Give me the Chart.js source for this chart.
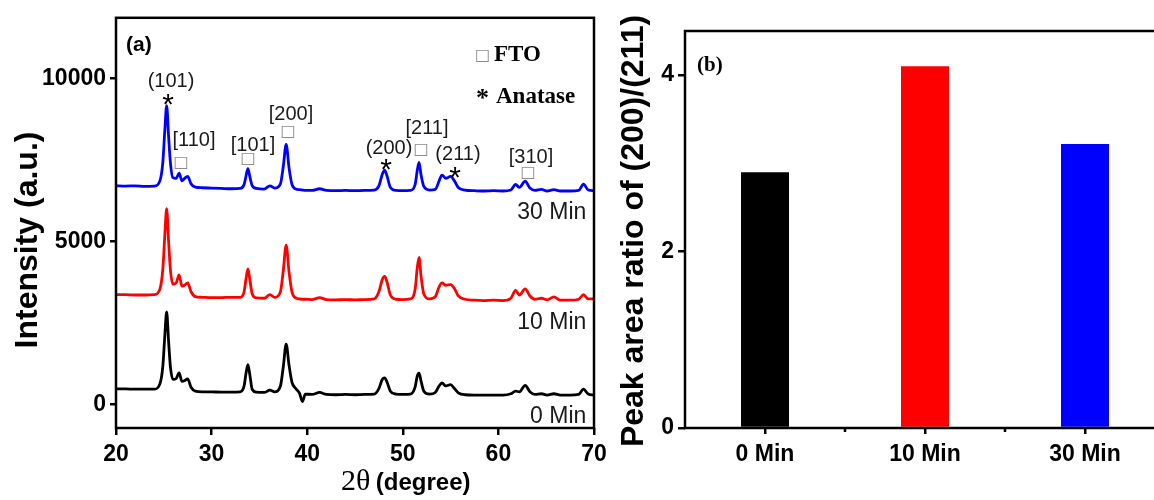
<!DOCTYPE html>
<html><head><meta charset="utf-8">
<script src="https://cdn.jsdelivr.net/npm/chart.js@4.4.1/dist/chart.umd.min.js"></script>
<style>
html,body{margin:0;padding:0;width:1154px;height:500px;overflow:hidden;background:#fff;}
#a{position:absolute;left:0;top:0;}
#b{position:absolute;left:600px;top:0;}
</style></head><body>
<canvas id="a" width="620" height="500"></canvas>
<canvas id="b" width="600" height="500"></canvas>
<script>
// ---------- DATA ----------
const twoTheta = [20,21,22,23,24,24.6,24.9,25.1,25.3,25.5,25.7,25.95,26.3,26.6,26.9,27.15,27.5,27.85,28.3,29,30,31,32,33,33.4,33.6,33.8,34.0,34.25,34.7,35.5,36.1,36.6,37.2,37.5,37.8,38.1,38.4,38.8,39.2,39.5,39.8,40.5,41.3,42,43,44,45,46,47,47.5,47.85,48.1,48.35,48.7,49.3,50,50.8,51.3,51.5,51.7,51.9,52.2,52.8,53.4,53.8,54.1,54.5,55.0,55.4,55.8,56.5,57.5,58.5,59.5,60.5,61.3,61.8,62.2,62.8,63.3,63.8,64.5,65.1,65.8,66.5,67.5,68.4,68.9,69.4,70];
const int0Min = [470,470,460,460,460,630,1170,2070,2830,1930,1120,760,790,960,700,720,780,520,400,380,380,370,370,380,560,950,1210,900,450,370,360,430,380,560,1150,1840,1200,680,480,330,80,310,300,360,300,290,300,290,300,310,480,760,810,680,400,310,300,310,540,850,950,720,400,310,360,560,650,560,600,480,350,290,280,280,280,280,320,400,380,580,380,300,320,280,320,280,280,300,460,310,280];
const int10Min = [3360,3360,3350,3350,3360,3540,4150,5150,6000,5000,4100,3680,3720,3970,3620,3650,3720,3450,3300,3280,3270,3270,3280,3280,3450,3850,4150,3820,3380,3260,3250,3360,3280,3450,4100,4880,4050,3450,3260,3230,3220,3220,3210,3270,3210,3200,3210,3200,3210,3230,3450,3820,3920,3750,3350,3220,3210,3230,3550,4150,4500,3950,3380,3230,3300,3600,3720,3650,3670,3550,3320,3220,3190,3180,3190,3180,3250,3490,3350,3540,3320,3220,3250,3200,3290,3190,3190,3220,3360,3230,3230];
const int30Min = [6700,6690,6700,6680,6690,6860,7430,8370,9160,8220,7380,6950,6930,7090,6850,6920,6990,6760,6660,6640,6630,6620,6610,6620,6740,7000,7230,6980,6700,6620,6600,6700,6630,6760,7300,7970,7250,6750,6600,6580,6570,6560,6560,6610,6560,6550,6560,6550,6560,6570,6700,7050,7180,7000,6650,6560,6550,6560,6750,7150,7420,7050,6680,6570,6590,6850,7030,6930,6990,6850,6650,6570,6550,6540,6550,6540,6570,6740,6650,6840,6630,6560,6590,6540,6580,6540,6540,6560,6750,6570,6550];
const xTicksA = [20,30,40,50,60,70];
const yTicksA = [0,5000,10000];

const barCategories = ['0 Min','10 Min','30 Min'];
const peakRatio = [2.90,4.10,3.22];
const yTicksB = [0,2,4];

// annotations of panel (a), in data coordinates
const peakLabels = ['(101)','[110]','[101]','[200]','(200)','[211]','(211)','[310]'];
const peakLabelTheta = [25.75,28.16,34.33,38.31,48.56,52.53,55.77,63.41];
const peakLabelY = [9728,7934,7782,8725,7691,8299,7478,7387];
const starTheta = [25.44,48.24,55.46];
const starY = [9424,7418,7174];
const squareTheta = [26.80,33.81,37.99,51.90,63.10];
const squareY = [7418,7539,8360,7813,7083];
const sampleNames = ['0 Min','10 Min','30 Min'];
const sampleLabelY = [-578,2310,5685];
const sampleLabelTheta = 69.2;

// ---------- helpers ----------
const SANS = '"Liberation Sans", Arial, sans-serif';
const SERIF = '"Liberation Serif", "Times New Roman", serif';
const tickFont = {family: SANS, weight: 'bold', size: 23};

const frame = {
  id: 'frame',
  afterDraw(chart) {
    const {ctx, chartArea: a} = chart;
    ctx.save();
    ctx.strokeStyle = '#000';
    ctx.lineWidth = 2.5;
    ctx.strokeRect(a.left, a.top, a.right - a.left, a.bottom - a.top);
    ctx.restore();
  }
};

const annotA = {
  id: 'annotA',
  afterDraw(chart) {
    const {ctx, chartArea: a} = chart;
    const xs = chart.scales.x, ys = chart.scales.y;
    const X = v => xs.getPixelForValue(v), Y = v => ys.getPixelForValue(v);
    ctx.save();
    ctx.textAlign = 'center';
    ctx.textBaseline = 'alphabetic';
    ctx.fillStyle = '#1a1a1a';
    ctx.font = '20px ' + SANS;
    peakLabels.forEach((t, i) => ctx.fillText(t, X(peakLabelTheta[i]), Y(peakLabelY[i])));
    ctx.fillStyle = '#000';
    ctx.font = '30px ' + SANS;
    starTheta.forEach((t, i) => ctx.fillText('*', X(t), Y(starY[i]) + 17));
    ctx.fillStyle = '#8c8c8c';
    ctx.font = '16px "DejaVu Sans", sans-serif';
    ctx.textBaseline = 'middle';
    squareTheta.forEach((t, i) => ctx.fillText('\u25A1', X(t), Y(squareY[i])));
    // sample names
    ctx.textBaseline = 'alphabetic';
    ctx.textAlign = 'right';
    ctx.fillStyle = '#1a1a1a';
    ctx.font = '23px ' + SANS;
    sampleNames.forEach((t, i) => ctx.fillText(t, X(sampleLabelTheta), Y(sampleLabelY[i])));
    // legend
    ctx.textAlign = 'left';
    ctx.fillStyle = '#8c8c8c';
    ctx.font = '16px "DejaVu Sans", sans-serif';
    ctx.textBaseline = 'middle';
    ctx.fillText('\u25A1', a.left + 359, a.top + 38);
    ctx.textBaseline = 'alphabetic';
    ctx.fillStyle = '#000';
    ctx.font = 'bold 23px ' + SERIF;
    ctx.fillText('FTO', a.left + 378, a.top + 43);
    ctx.font = 'bold 26px ' + SERIF;
    ctx.fillText('*', a.left + 360, a.top + 88);
    ctx.font = 'bold 23px ' + SERIF;
    ctx.fillText('Anatase', a.left + 380, a.top + 85);
    // panel tag
    ctx.font = 'bold 21px ' + SANS;
    ctx.fillText('(a)', a.left + 10, a.top + 33);
    // axis titles
    ctx.save();
    ctx.translate(28, 240);
    ctx.rotate(-Math.PI / 2);
    ctx.textAlign = 'center';
    ctx.textBaseline = 'middle';
    ctx.font = 'bold 32px ' + SANS;
    ctx.fillText('Intensity (a.u.)', 0, 0);
    ctx.restore();
    ctx.textAlign = 'left';
    ctx.font = '30px ' + SERIF;
    const w1 = ctx.measureText('2\u03B8 ').width;
    const start = a.left + 225;
    ctx.fillText('2\u03B8', start, 490);
    ctx.font = 'bold 24px ' + SANS;
    ctx.fillText('(degree)', start + w1 - 2, 490);
    ctx.restore();
  }
};

const annotB = {
  id: 'annotB',
  afterDraw(chart) {
    const {ctx, chartArea: a} = chart;
    const xs = chart.scales.x;
    ctx.save();
    // minor ticks between categories
    ctx.strokeStyle = '#000';
    ctx.lineWidth = 2.5;
    for (let i = 0; i < barCategories.length - 1; i++) {
      const px = (xs.getPixelForValue(i) + xs.getPixelForValue(i + 1)) / 2;
      ctx.beginPath();
      ctx.moveTo(px, a.bottom);
      ctx.lineTo(px, a.bottom + 4);
      ctx.stroke();
    }
    ctx.fillStyle = '#000';
    ctx.font = 'bold 21px ' + SERIF;
    ctx.textAlign = 'left';
    ctx.fillText('(b)', a.left + 12, a.top + 40);
    ctx.save();
    ctx.translate(34, 231);
    ctx.rotate(-Math.PI / 2);
    ctx.textAlign = 'center';
    ctx.textBaseline = 'middle';
    ctx.font = 'bold 32px ' + SANS;
    ctx.fillText('Peak area ratio of (200)/(211)', 0, 0);
    ctx.restore();
    ctx.restore();
  }
};

const axisGrid = len => ({display: true, drawOnChartArea: false, drawTicks: true, tickLength: len, color: '#000', lineWidth: 2.5});

// ---------- Panel (a) ----------
const seriesA = [
  {label: '0 Min', values: int0Min, color: '#000000'},
  {label: '10 Min', values: int10Min, color: '#ff0000'},
  {label: '30 Min', values: int30Min, color: '#0000ff'}
];
new Chart(document.getElementById('a'), {
  type: 'line',
  data: {
    datasets: seriesA.map(s => ({
      label: s.label,
      data: twoTheta.map((x, i) => ({x: x, y: s.values[i]})),
      borderColor: s.color,
      borderWidth: 2.8,
      pointRadius: 0,
      fill: false,
      cubicInterpolationMode: 'monotone'
    }))
  },
  options: {
    responsive: false, animation: false, devicePixelRatio: 1,
    layout: {padding: {left: 0, top: 14, right: 26, bottom: 0}},
    plugins: {legend: {display: false}, tooltip: {enabled: false}},
    scales: {
      x: {
        type: 'linear', min: 20, max: 70,
        afterBuildTicks: s => { s.ticks = xTicksA.map(v => ({value: v})); },
        afterFit: s => { s.height = 72; },
        border: {display: false},
        grid: axisGrid(7),
        ticks: {color: '#000', font: tickFont, padding: 6, maxRotation: 0, autoSkip: false, callback: v => String(v)}
      },
      y: {
        type: 'linear', min: -730, max: 11854,
        afterBuildTicks: s => { s.ticks = yTicksA.map(v => ({value: v})); },
        afterFit: s => { s.width = 116; },
        border: {display: false},
        grid: axisGrid(6),
        ticks: {color: '#000', font: tickFont, padding: 4, callback: v => String(v)}
      }
    }
  },
  plugins: [frame, annotA]
});

// ---------- Panel (b) ----------
new Chart(document.getElementById('b'), {
  type: 'bar',
  data: {
    labels: barCategories,
    datasets: [{
      data: peakRatio,
      backgroundColor: ['#000000', '#ff0000', '#0000ff'],
      borderWidth: 0,
      barPercentage: 0.3,
      categoryPercentage: 1
    }]
  },
  options: {
    responsive: false, animation: false, devicePixelRatio: 1,
    layout: {padding: {left: 0, top: 31, right: 35, bottom: 0}},
    plugins: {legend: {display: false}, tooltip: {enabled: false}},
    scales: {
      x: {
        afterFit: s => { s.height = 72; },
        border: {display: false},
        grid: Object.assign(axisGrid(6), {offset: false}),
        ticks: {color: '#000', font: tickFont, padding: 7, maxRotation: 0}
      },
      y: {
        min: 0, max: 4.5,
        afterBuildTicks: s => { s.ticks = yTicksB.map(v => ({value: v})); },
        afterFit: s => { s.width = 85; },
        border: {display: false},
        grid: axisGrid(7),
        ticks: {color: '#000', font: tickFont, padding: 4, callback: v => String(v)}
      }
    }
  },
  plugins: [frame, annotB]
});
</script>
</body></html>
